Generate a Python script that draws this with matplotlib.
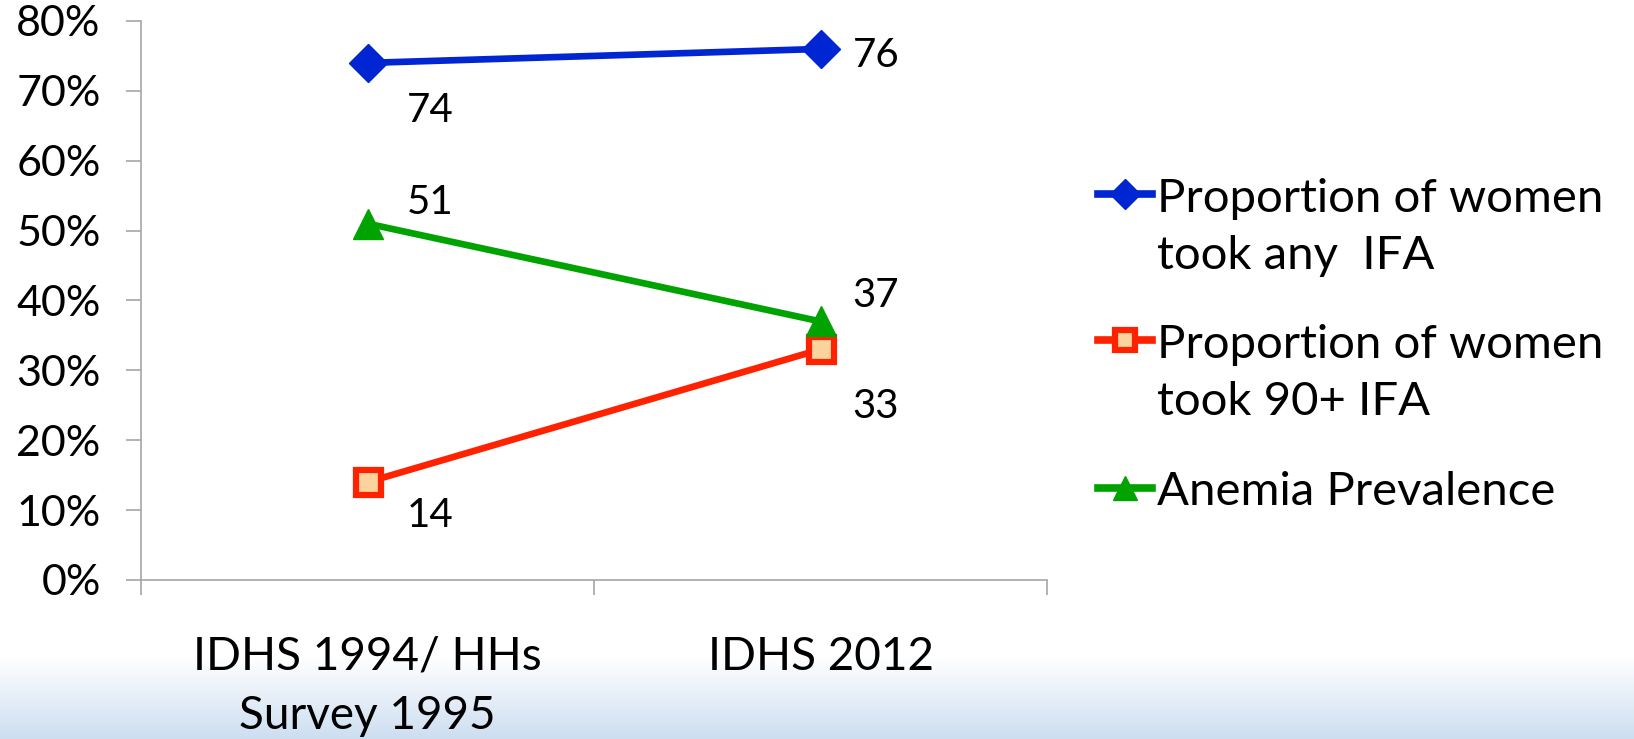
import numpy as np
import matplotlib
matplotlib.use("Agg")
from matplotlib import pyplot as plt
from matplotlib.ticker import FixedLocator, PercentFormatter
from matplotlib.colors import LinearSegmentedColormap
from matplotlib.legend_handler import HandlerLine2D

plt.rcParams['font.family'] = ['Lato', 'DejaVu Sans']

categories = ["IDHS 1994/ HHs\nSurvey 1995", "IDHS 2012"]
series_names = ["Proportion of women\ntook any  IFA",
                "Proportion of women\ntook 90+ IFA",
                "Anemia Prevalence"]
any_ifa = [74, 76]
ifa_90 = [14, 33]
anemia = [51, 37]
y_ticks = [0, 10, 20, 30, 40, 50, 60, 70, 80]

LEG_FS = 34
LEG_LS = 1.45


class TopLineHandler(HandlerLine2D):
    # put the legend key next to the first line of a two-line label
    def __init__(self, shift, **kw):
        super().__init__(**kw)
        self.shift = shift

    def create_artists(self, legend, orig_handle, xdescent, ydescent,
                       width, height, fontsize, trans):
        arts = super().create_artists(legend, orig_handle, xdescent, ydescent,
                                      width, height, fontsize, trans)
        for a in arts:
            a.set_ydata(np.asarray(a.get_ydata()) + self.shift)
        return arts


fig = plt.figure(figsize=(16.34, 7.39), dpi=100)

# light blue band at the bottom of the slide
bg = fig.add_axes([0, 0, 1, 0.11], zorder=-10)
grad = np.linspace(0, 1, 100).reshape(-1, 1)
cmap = LinearSegmentedColormap.from_list("band", ["#cddef1", "#ffffff"])
bg.imshow(grad, aspect="auto", cmap=cmap, origin="lower", extent=[0, 1, 0, 1])
bg.axis("off")

ax = fig.add_axes([0.0863, 0.2152, 0.5545, 0.7564])
ax.patch.set_alpha(0)
x = np.array([0.5, 1.5])

l1, = ax.plot(x, any_ifa, color="#0026d4", lw=4.8, marker="D", ms=19,
              mfc="#0026d4", mec="#0026d4", label=series_names[0], zorder=3)
l2, = ax.plot(x, ifa_90, color="#ff2200", lw=4.8, marker="s", ms=18, mew=4.5,
              mfc="#fcd39c", mec="#ff2200", label=series_names[1], zorder=3)
l3, = ax.plot(x, anemia, color="#00a300", lw=4.8, marker="^", ms=22,
              mfc="#00a300", mec="#00a300", label=series_names[2], zorder=4)

label_offsets = {
    "any": [(28, -34), (23, -5)],
    "90": [(28, -24), (23, -41)],
    "an": [(28, 15), (23, 19)],
}
for key, vals in (("any", any_ifa), ("90", ifa_90), ("an", anemia)):
    for xi, v, off in zip(x, vals, label_offsets[key]):
        ax.annotate(str(v), (xi, v), xytext=off, textcoords="offset points",
                    ha="left", va="center", fontsize=29, color="black")

ax.set_xlim(0, 2)
ax.set_ylim(0, 80)
ax.yaxis.set_major_locator(FixedLocator(y_ticks))
ax.yaxis.set_major_formatter(PercentFormatter(decimals=0))
ax.xaxis.set_major_locator(FixedLocator([0, 1, 2]))
ax.xaxis.set_major_formatter(plt.NullFormatter())
ax.set_xticks(x, minor=True)
ax.set_xticklabels(categories, minor=True, fontsize=33, linespacing=1.5)
ax.tick_params(axis="x", which="minor", length=0, pad=40)
ax.tick_params(axis="x", which="major", length=11, width=1.2, color="#a6a6a6")
ax.tick_params(axis="y", length=11, width=1.2, color="#a6a6a6", labelsize=31, pad=18)
for s in ("top", "right"):
    ax.spines[s].set_visible(False)
for s in ("left", "bottom"):
    ax.spines[s].set_color("#a6a6a6")
    ax.spines[s].set_linewidth(1.2)

half = 0.5 * LEG_FS * LEG_LS
hmap = {l1: TopLineHandler(half), l2: TopLineHandler(half), l3: TopLineHandler(0)}
leg = ax.legend(loc="center left", bbox_to_anchor=(1.035, 0.42), frameon=False,
                fontsize=LEG_FS, handlelength=1.15, handletextpad=0.1,
                labelspacing=1.0, borderaxespad=0, handler_map=hmap,
                markerscale=0.8)
for t in leg.get_texts():
    t.set_linespacing(LEG_LS)
for h in leg.legend_handles:
    h.set_linewidth(5.5)

plt.savefig("out.png", dpi=100)
